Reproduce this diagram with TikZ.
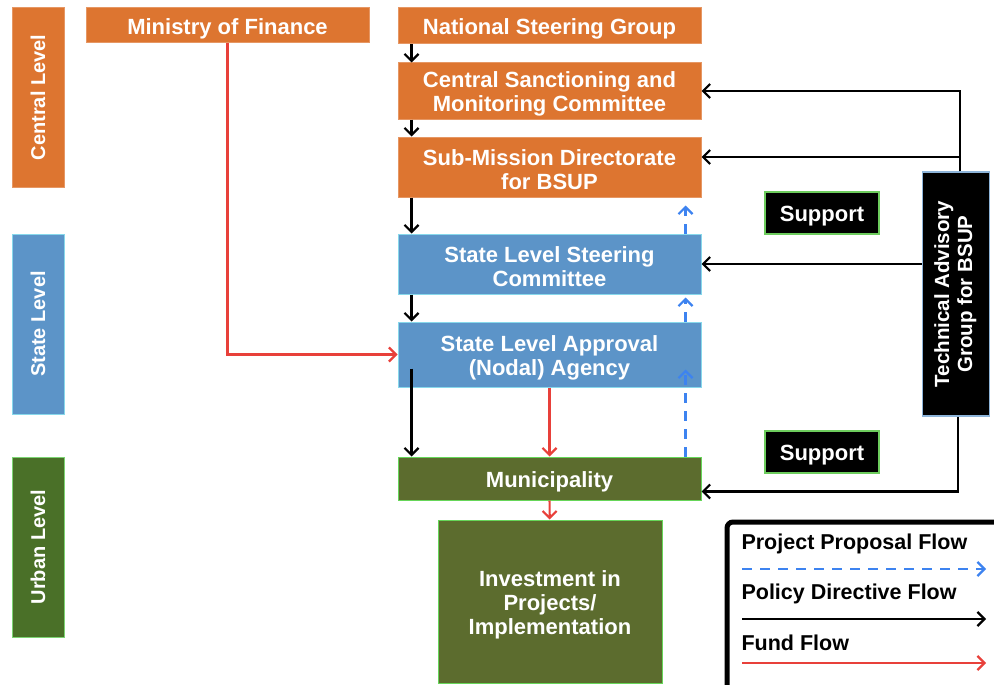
\documentclass[tikz,border=0pt]{standalone}
\usepackage{fontspec}
\setmainfont{Liberation Sans}
\usetikzlibrary{arrows.meta,positioning}

\definecolor{orng}{RGB}{221,117,48}
\definecolor{stblue}{RGB}{92,148,200}
\definecolor{urgreen}{RGB}{74,112,40}
\definecolor{olive}{RGB}{92,108,46}
\definecolor{fundred}{RGB}{232,64,58}
\definecolor{propblue}{RGB}{61,131,240}

% strut on the first line, lowers box text a little
\newcommand{\tp}{\rule{0pt}{22pt}}

\begin{document}
\begin{tikzpicture}[x=1pt,y=-1pt,
	font=\bfseries\fontsize{22}{24}\selectfont,
	box/.style={line width=1pt,text=white,align=center,inner sep=0pt},
	orbox/.style={box,fill=orng,draw=orng!75!white},
	blbox/.style={box,fill=stblue,draw=stblue!60!cyan!60!white},
	grbox/.style={box,fill=urgreen,draw=urgreen!50!green!60!white},
	olbox/.style={box,fill=olive,draw=olive!40!green!70!white},
	supbox/.style={box,fill=black,draw=green!50!olive!70!white,line width=1.5pt,minimum width=114,minimum height=42},
	lvl/.style={minimum width=52,minimum height=180,font=\bfseries\fontsize{20}{24}\selectfont},
	wide/.style={minimum width=303},
	pol/.style={line width=2.2pt,-{Straight Barb[length=7pt,width=14pt]}},
	fund/.style={pol,fundred},
	prop/.style={pol,propblue,dash pattern=on 10pt off 8pt},
	leg/.style={anchor=west,font=\bfseries\fontsize{21.5}{24}\selectfont}]

	\useasboundingbox (0,0) rectangle (994,685);

	% levels
	\node[grbox,lvl] (urban) at (38,547) {\rotatebox{90}{Urban Level}};
	\node[blbox,lvl] (state) at (38,324) {\rotatebox{90}{State Level}};
	\node[orbox,lvl] (central) at (38,97.5) {\rotatebox{90}{Central Level}};

	% central
	\node[orbox,minimum width=283,minimum height=35] (mof) at (227.5,25.5) {\tp Ministry of Finance};
	\node[orbox,wide,minimum height=36] (nsg) at (549.5,26) {\tp National Steering Group};
	\node[orbox,wide,minimum height=56] (csmc) at (549.5,91) {\tp Central Sanctioning and\\Monitoring Committee};
	\node[orbox,wide,minimum height=60] (smd) at (549.5,167) {\tp Sub-Mission Directorate\\for BSUP};
	% state
	\node[blbox,wide,minimum height=60] (slsc) at (549.5,264) {\tp State Level Steering\\Committee};
	\node[blbox,wide,minimum height=65] (slaa) at (549.5,354.5) {\tp State Level Approval\\(Nodal) Agency};
	% urban
	\node[olbox,wide,minimum height=43] (mun) at (549.5,478.5) {\tp Municipality};
	\node[olbox,minimum width=224,minimum height=163] (inv) at (550,601.5) {\tp Investment in\\Projects/\\Implementation};

	% support side
	\node[supbox] (sup1) at (822,213) {\tp Support};
	\node[supbox] (sup2) at (822,452) {\tp Support};
	\node[box,fill=black,draw=stblue!70!white,line width=1.5pt,minimum width=67,minimum height=244,font=\bfseries\fontsize{20.5}{23}\selectfont] (tag) at (956,294)
		{\rotatebox{90}{\begin{tabular}{@{}c@{}}Technical Advisory\\Group for BSUP\end{tabular}}};

	% policy directive flow
	\draw[pol] ([xshift=14pt]nsg.south west) -- ([xshift=14pt]csmc.north west);
	\draw[pol] ([xshift=14pt]csmc.south west) -- ([xshift=14pt]smd.north west);
	\draw[pol] ([xshift=14pt]smd.south west) -- ([xshift=14pt]slsc.north west);
	\draw[pol] ([xshift=14pt]slsc.south west) -- ([xshift=14pt]slaa.north west);
	\draw[pol] ([xshift=14pt,yshift=19pt]slaa.south west) -- ([xshift=14pt]mun.north west);
	\draw[pol] ([xshift=4pt]tag.north) |- (csmc.east);
	\draw[pol] ([xshift=4pt]tag.north) |- ([yshift=10pt]smd.east);
	\draw[pol] (tag.west |- slsc.east) -- (slsc.east);
	\draw[pol] ([xshift=2pt]tag.south) |- ([yshift=-13pt]mun.east);

	% fund flow
	\draw[fund] (mof) |- (slaa);
	\draw[fund] (slaa) -- (mun);
	\draw[fund] (mun) -- (inv);

	% project proposal flow
	\draw[prop] ([xshift=-16pt]mun.north east) -- ([xshift=-16pt,yshift=18pt]slaa.south east);
	\draw[prop] ([xshift=-16pt]slaa.north east) -- ([xshift=-16pt,yshift=-3pt]slsc.south east);
	\draw[prop] ([xshift=-16pt]slsc.north east) -- ([xshift=-16pt,yshift=-8pt]smd.south east);

	% legend
	\draw[line width=5pt,rounded corners=6pt] (727,522) rectangle (1012,700);
	\node[leg] (lgprop) at (738,544) {Project Proposal Flow};
	\node[leg] (lgpol) at (738,594) {Policy Directive Flow};
	\node[leg] (lgfund) at (738,643) {Fund Flow};
	\coordinate (p1) at (742,569); \coordinate (p2) at (986,569);
	\coordinate (q1) at (742,619); \coordinate (q2) at (986,619);
	\coordinate (r1) at (742,663); \coordinate (r2) at (986,663);
	\draw[prop] (p1) -- (p2);
	\draw[pol] (q1) -- (q2);
	\draw[fund] (r1) -- (r2);
\end{tikzpicture}
\end{document}
